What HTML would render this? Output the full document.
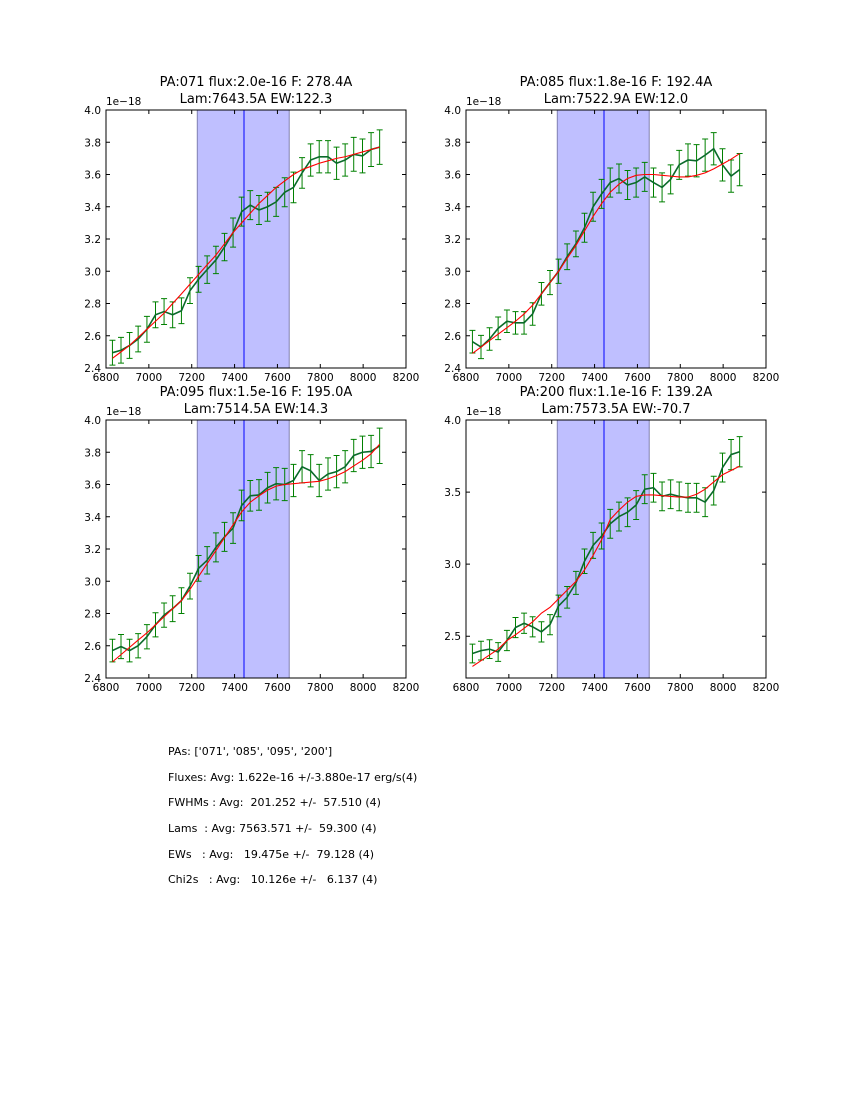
<!DOCTYPE html>
<html><head><meta charset="utf-8">
<style>
body{margin:0;background:#fff;}
#wrap{position:relative;width:850px;height:1100px;font-family:"DejaVu Sans","Liberation Sans",sans-serif;}
svg text{font-family:"DejaVu Sans","Liberation Sans",sans-serif;}
.stats{position:absolute;left:168px;font-size:11px;white-space:pre;color:#000;font-family:"DejaVu Sans","Liberation Sans",sans-serif;}
</style></head>
<body>
<div id="wrap">
<svg id="fig" width="850" height="1100"></svg>
<div class="stats" style="top:745px">PAs: ['071', '085', '095', '200']</div>
<div class="stats" style="top:771px">Fluxes: Avg: 1.622e-16 +/-3.880e-17 erg/s(4)</div>
<div class="stats" style="top:796px">FWHMs : Avg:  201.252 +/-  57.510 (4)</div>
<div class="stats" style="top:822px">Lams  : Avg: 7563.571 +/-  59.300 (4)</div>
<div class="stats" style="top:848px">EWs   : Avg:   19.475e +/-  79.128 (4)</div>
<div class="stats" style="top:873px">Chi2s   : Avg:   10.126e +/-   6.137 (4)</div>
</div>
<script>
// shared wavelength grid (Angstrom)
const waves = [6830,6870,6910,6950,6991,7031,7071,7111,7152,7192,7232,7272,7313,7353,7393,7433,7473,7514,7554,7594,7634,7675,7715,7755,7795,7836,7876,7916,7956,7997,8037,8077];
const titles1 = ["PA:071 flux:2.0e-16 F: 278.4A","PA:085 flux:1.8e-16 F: 192.4A","PA:095 flux:1.5e-16 F: 195.0A","PA:200 flux:1.1e-16 F: 139.2A"];
const titles2 = ["Lam:7643.5A EW:122.3","Lam:7522.9A EW:12.0","Lam:7514.5A EW:14.3","Lam:7573.5A EW:-70.7"];
const flux071 = [2.495,2.51,2.54,2.58,2.64,2.73,2.75,2.73,2.755,2.88,2.95,3.01,3.07,3.15,3.24,3.37,3.41,3.38,3.40,3.43,3.49,3.52,3.61,3.69,3.71,3.71,3.67,3.69,3.725,3.715,3.755,3.77];
const fit071 = [2.46,2.50,2.54,2.59,2.64,2.69,2.74,2.80,2.86,2.92,2.98,3.04,3.10,3.17,3.24,3.30,3.36,3.42,3.47,3.52,3.56,3.60,3.63,3.65,3.67,3.685,3.70,3.71,3.725,3.74,3.755,3.77];
const err071 = [0.077,0.08,0.08,0.08,0.08,0.08,0.08,0.08,0.08,0.08,0.08,0.085,0.085,0.085,0.09,0.09,0.09,0.09,0.09,0.09,0.09,0.095,0.095,0.1,0.1,0.1,0.1,0.1,0.105,0.105,0.105,0.107];
const flux085 = [2.563,2.53,2.58,2.646,2.69,2.68,2.68,2.735,2.86,2.93,3.00,3.09,3.17,3.27,3.40,3.48,3.55,3.575,3.535,3.55,3.585,3.55,3.52,3.57,3.66,3.69,3.685,3.72,3.76,3.66,3.59,3.63];
const fit085 = [2.49,2.53,2.57,2.61,2.65,2.69,2.735,2.79,2.86,2.93,3.00,3.08,3.16,3.25,3.34,3.42,3.49,3.54,3.575,3.595,3.60,3.60,3.595,3.59,3.585,3.585,3.595,3.61,3.635,3.665,3.695,3.73];
const err085 = [0.07,0.072,0.07,0.07,0.07,0.07,0.07,0.07,0.07,0.075,0.075,0.08,0.08,0.09,0.09,0.09,0.09,0.09,0.09,0.09,0.09,0.09,0.09,0.09,0.09,0.1,0.1,0.1,0.1,0.1,0.1,0.1];
const flux095 = [2.57,2.595,2.57,2.60,2.656,2.73,2.79,2.83,2.88,2.97,3.08,3.13,3.21,3.275,3.33,3.47,3.53,3.535,3.58,3.605,3.60,3.625,3.71,3.685,3.625,3.665,3.68,3.71,3.78,3.80,3.805,3.84];
const fit095 = [2.50,2.545,2.59,2.635,2.68,2.73,2.78,2.83,2.88,2.95,3.03,3.11,3.19,3.27,3.35,3.43,3.49,3.53,3.565,3.59,3.60,3.605,3.61,3.615,3.62,3.635,3.655,3.68,3.715,3.75,3.79,3.85];
const err095 = [0.07,0.075,0.07,0.075,0.075,0.075,0.075,0.08,0.08,0.08,0.08,0.085,0.09,0.09,0.095,0.095,0.095,0.095,0.095,0.1,0.1,0.1,0.1,0.1,0.1,0.1,0.1,0.1,0.1,0.1,0.1,0.11];
const flux200 = [2.38,2.40,2.41,2.39,2.47,2.56,2.59,2.565,2.53,2.58,2.71,2.77,2.87,3.02,3.13,3.195,3.28,3.33,3.36,3.41,3.52,3.53,3.47,3.485,3.47,3.46,3.46,3.43,3.51,3.67,3.76,3.78];
const fit200 = [2.29,2.33,2.37,2.41,2.47,2.51,2.555,2.60,2.66,2.70,2.76,2.82,2.88,2.96,3.06,3.17,3.31,3.375,3.43,3.47,3.48,3.48,3.475,3.47,3.465,3.465,3.485,3.52,3.57,3.62,3.65,3.68];
const err200 = [0.065,0.065,0.065,0.065,0.07,0.07,0.07,0.07,0.07,0.07,0.075,0.075,0.08,0.085,0.09,0.09,0.1,0.1,0.1,0.1,0.1,0.1,0.1,0.1,0.1,0.1,0.1,0.1,0.1,0.1,0.105,0.105];
const xTicks = [6800,7000,7200,7400,7600,7800,8000,8200];
const yTicksA = [2.4,2.6,2.8,3.0,3.2,3.4,3.6,3.8,4.0];
const yTicksB = [2.5,3.0,3.5,4.0];
const spanLo = 7226, spanHi = 7655, lineCenter = 7444;

const NS="http://www.w3.org/2000/svg";
const svg=document.getElementById('fig');
function mk(tag,attrs,parent){const e=document.createElementNS(NS,tag);for(const k in attrs)e.setAttribute(k,attrs[k]);(parent||svg).appendChild(e);return e;}

const panels=[
 {x0:106,y0:110,flux:flux071,fit:fit071,err:err071,ymin:2.4,ymax:4.0,yt:yTicksA,name:'pa071'},
 {x0:466,y0:110,flux:flux085,fit:fit085,err:err085,ymin:2.4,ymax:4.0,yt:yTicksA,name:'pa085'},
 {x0:106,y0:420,flux:flux095,fit:fit095,err:err095,ymin:2.4,ymax:4.0,yt:yTicksA,name:'pa095'},
 {x0:466,y0:420,flux:flux200,fit:fit200,err:err200,ymin:2.21,ymax:4.0,yt:yTicksB,name:'pa200'}
];
const W=300,H=258;
panels.forEach((p,pi)=>{
  const g=mk('g',{});
  
  
  const sx=v=>p.x0+(v-6800)/1400*W;
  const sy=v=>p.y0+H-(v-p.ymin)/(p.ymax-p.ymin)*H;
  const sp=mk('rect',{x:sx(spanLo),y:p.y0,width:sx(spanHi)-sx(spanLo),height:H,fill:'#bfbfff',stroke:'#8080b0','stroke-width':1},g);
  
  
  const cl=mk('line',{x1:sx(lineCenter),x2:sx(lineCenter),y1:p.y0,y2:p.y0+H,stroke:'#0000ff','stroke-width':1},g);
  
  
  waves.forEach((w,i)=>{
    const x=sx(w),y1=sy(p.flux[i]-p.err[i]),y2=sy(p.flux[i]+p.err[i]);
    const eb=mk('path',{d:`M${x},${y1}V${y2}M${x-3},${y1}H${x+3}M${x-3},${y2}H${x+3}`,stroke:'#008000','stroke-width':1,fill:'none'},g);
    
    
  });
  const dl=mk('polyline',{points:waves.map((w,i)=>sx(w)+','+sy(p.flux[i])).join(' '),fill:'none',stroke:'#0a6a2a','stroke-width':1.6},g);
  
  
  const fl=mk('polyline',{points:waves.map((w,i)=>sx(w)+','+sy(p.fit[i])).join(' '),fill:'none',stroke:'#ff0000','stroke-width':1.1},g);
  
  
  const fr=mk('rect',{x:p.x0,y:p.y0,width:W,height:H,fill:'none',stroke:'#000','stroke-width':1},g);
  
  
  xTicks.forEach(t=>{
    const x=sx(t);
    mk('path',{d:`M${x},${p.y0+H}v-4M${x},${p.y0}v4`,stroke:'#000','stroke-width':1},g);
    const tx=mk('text',{x:x,y:p.y0+H+13,'font-size':10.5,'text-anchor':'middle'},g);
    tx.textContent=t;
    
    
  });
  p.yt.forEach(t=>{
    const y=sy(t);
    mk('path',{d:`M${p.x0},${y}h4M${p.x0+W},${y}h-4`,stroke:'#000','stroke-width':1},g);
    const ty=mk('text',{x:p.x0-5,y:y+4,'font-size':10.5,'text-anchor':'end'},g);
    ty.textContent=t.toFixed(1);
    
    
  });
  const off=mk('text',{x:p.x0,y:p.y0-5,'font-size':10.5},g);
  off.textContent='1e\u221218';
  
  
  const t1=mk('text',{x:p.x0+W/2,y:p.y0-24,'font-size':13,'text-anchor':'middle'},g);
  t1.textContent=titles1[pi];
  
  
  const t2=mk('text',{x:p.x0+W/2,y:p.y0-7,'font-size':13,'text-anchor':'middle'},g);
  t2.textContent=titles2[pi];
  
  
});
</script>
</body></html>
